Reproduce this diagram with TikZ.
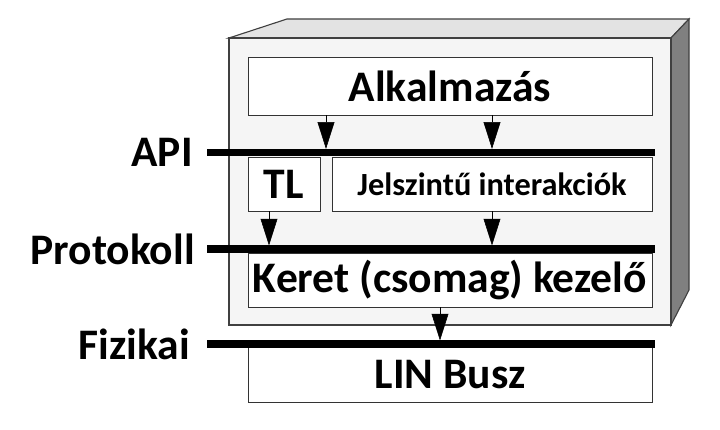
\documentclass[tikz,border=0pt]{standalone}
\usepackage{fontspec}
\setmainfont{Carlito}
\usetikzlibrary{arrows.meta,calc,positioning}

\begin{document}
\begin{tikzpicture}[>={Triangle[length=19pt,width=12pt]},
  layer/.style={draw=black!80,fill=white,thin,inner sep=0pt,font=\fontsize{31}{33}\selectfont\bfseries},
  bus/.style={line width=5pt},
  flow/.style={->,thin,shorten >=2.5pt},
  lbl/.style={font=\fontsize{31}{33}\selectfont\bfseries,inner sep=0pt}]
  \useasboundingbox (0,0) rectangle (18,10.75);
  % doboz
  \draw[draw=black!75,fill=gray!22,line width=0.8pt] (5.725,9.8) -- (7.175,10.275) -- (17.225,10.275) -- (16.775,9.8) -- cycle;
  \draw[draw=black!75,fill=gray,line width=0.8pt] (16.775,9.8) -- (17.225,10.275) -- (17.225,3.5) -- (16.775,2.625) -- cycle;
  \draw[draw=black!75,fill=gray!8,line width=0.8pt] (5.725,2.625) rectangle (16.775,9.8);

  \node[layer,minimum width=10.1cm,minimum height=1.45cm] (alk) at (11.25,8.6) {Alkalmazás};
  \node[layer,minimum width=1.8cm,minimum height=1.35cm] (tl) at (7.1,6.15) {TL};
  \node[layer,minimum width=8cm,minimum height=1.35cm,font=\fontsize{23}{25}\selectfont\bfseries] (jel) at (12.3,6.15) {Jelszintű interakciók};
  \node[layer,minimum width=10.1cm,minimum height=1.35cm] (keret) at (11.25,3.75) {Keret (csomag) kezelő};
  \node[layer,minimum width=10.1cm,minimum height=1.375cm] (lin) at (11.25,1.3875) {LIN Busz};

  \coordinate (apiL) at (5.175,6.94);
  \coordinate (apiR) at (16.375,6.94);
  \coordinate (protL) at (5.175,4.525);
  \coordinate (protR) at (16.375,4.525);
  \coordinate (fizL) at (5.175,2.15);
  \coordinate (fizR) at (16.375,2.15);
  \draw[bus] (apiL) -- (apiR);
  \draw[bus] (protL) -- (protR);
  \draw[bus] (fizL) -- (fizR);
  \node[lbl,left=0.35cm of apiL] (api) {API};
  \node[lbl,left=0.3cm of protL] (prot) {Protokoll};
  \node[lbl,left=0.42cm of fizL] (fiz) {Fizikai};

  \coordinate (gap) at ($(tl.east)!0.5!(jel.west)$);
  \coordinate (tlout) at ([xshift=-0.375cm]tl.south);
  \coordinate (kout) at ([xshift=-0.25cm]keret.south);
  \draw[flow] (gap |- alk.south) -- (gap |- apiL);
  \draw[flow] (jel.north |- alk.south) -- (jel.north |- apiL);
  \draw[flow] (tlout) -- (tlout |- protL);
  \draw[flow] (jel.south) -- (jel.south |- protL);
  \draw[flow] (kout) -- (kout |- fizL);
\end{tikzpicture}
\end{document}
